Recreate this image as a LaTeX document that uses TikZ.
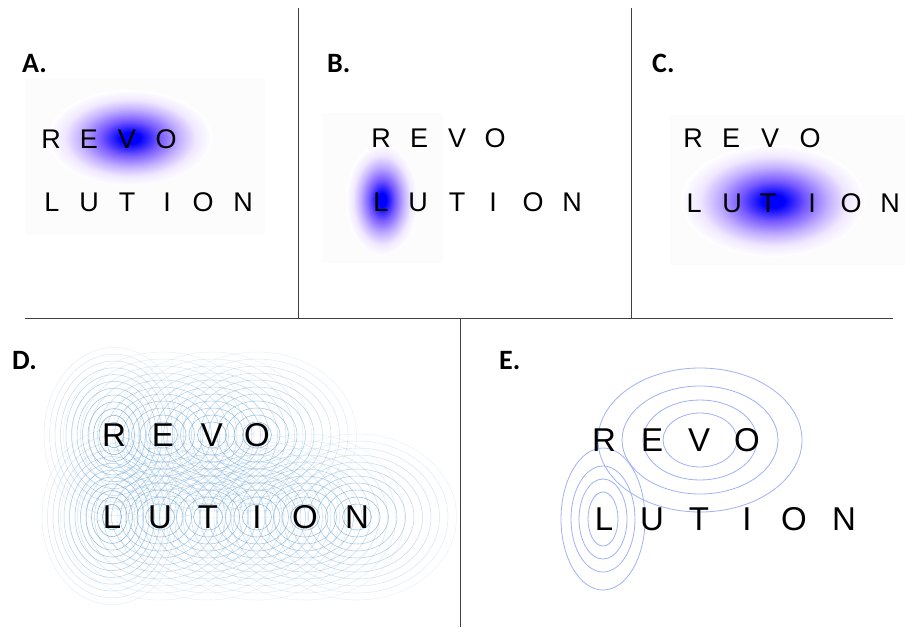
\documentclass[tikz,border=0pt]{standalone}
\usepackage{fontspec}
\setmainfont{Liberation Sans}
\newfontfamily\labelfont{Carlito}
\definecolor{blobmid}{RGB}{120,90,255}
\definecolor{blobpale}{RGB}{195,175,255}
\definecolor{blobout}{RGB}{240,232,255}
\definecolor{ringD}{RGB}{100,160,210}
\definecolor{ringE}{RGB}{160,178,245}
\pgfdeclareradialshading{glow}{\pgfpoint{0bp}{0bp}}{color(0bp)=(blue); color(3bp)=(blue); color(9bp)=(blobmid); color(15bp)=(blobpale); color(20bp)=(blobout); color(25bp)=(white); color(50bp)=(white)}
\begin{document}
\begin{tikzpicture}[x=1pt,y=-1pt,
  panellabel/.style={font=\labelfont\bfseries\fontsize{28}{28}\selectfont, inner sep=0, anchor=north west},
  letter/.style={font=\fontsize{27}{27}\selectfont, inner sep=0},
  bigletter/.style={font=\fontsize{33}{33}\selectfont, inner sep=0},
  divider/.style={draw=black!75, line width=1pt},
  ringd/.style={draw=ringD, line width=0.5pt},
  ringe/.style={draw=ringE, line width=0.8pt},
  heatbg/.style={fill=black!1}]
\useasboundingbox (0,0) rectangle (912,627);
\fill[white] (0,0) rectangle (912,627);

% dividers
\coordinate (v1t) at (298,8);  \coordinate (v1b) at (298,318);
\coordinate (v2t) at (631,8);  \coordinate (v2b) at (631,318);
\coordinate (hl) at (25,318);  \coordinate (hr) at (893,318);
\coordinate (v3t) at (460,318); \coordinate (v3b) at (460,627);
\draw[divider] (v1t) -- (v1b);
\draw[divider] (v2t) -- (v2b);
\draw[divider] (hl) -- (hr);
\draw[divider] (v3t) -- (v3b);

% panel labels
\node[panellabel] (labA) at (22,54) {A.};
\node[panellabel] (labB) at (327,54) {B.};
\node[panellabel] (labC) at (652,54) {C.};
\node[panellabel] (labD) at (12,351) {D.};
\node[panellabel] (labE) at (499,351) {E.};

% heat-map backgrounds and blobs
\fill[heatbg] (25,78) rectangle (265,235);
\fill[heatbg] (323,113) rectangle (443,263);
\fill[heatbg] (670,115) rectangle (905,265);
\shade[shading=glow] (130,138) ellipse [x radius=82, y radius=48];
\shade[shading=glow] (382,200) ellipse [x radius=36, y radius=56];
\shade[shading=glow] (773,201) ellipse [x radius=92, y radius=56];

% panel D rings
\foreach \cx/\cy in {114/435,112/517}{
  \foreach \k in {1,...,12}{
    \pgfmathsetmacro{\op}{0.95-0.065*\k}
    \draw[ringd, opacity=\op] (\cx,\cy) ellipse [x radius={4+5.5*\k}, y radius={6+6.8*\k}];
  }
}
\foreach \cx/\cy in {163/435,212/435,257/435,160/517,208/517,257/517,305/517,357/517}{
  \foreach \k in {1,...,11}{
    \pgfmathsetmacro{\op}{0.8-0.06*\k}
    \draw[ringd, opacity=\op] (\cx,\cy) ellipse [x radius={6+8.5*\k}, y radius={6+7*\k}];
  }
}

% panel E rings
\foreach \rx/\ry in {37/27,57/40,78/54,102/72}
  \draw[ringe] (700,440) ellipse [x radius=\rx, y radius=\ry];
\foreach \rx/\ry in {15/27,24/40,32/53,42/71}
  \draw[ringe] (603,519) ellipse [x radius=\rx, y radius=\ry];

% letters A-C
\foreach \n/\x/\y/\t in {aR/51/139/R,aE/89/139/E,aV/127/139/V,aO/166/139/O,
  aL/52/202/L,aU/89/202/U,aT/127/202/T,aI/167/202/I,aO2/203/202/O,aN/243/202/N,
  bR/381/138/R,bE/419/138/E,bV/457/138/V,bO/495/138/O,
  bL/381/202/L,bU/418/202/U,bT/457/202/T,bI/493/202/I,bO2/533/202/O,bN/572/202/N,
  cR/693/138/R,cE/731/138/E,cV/770/138/V,cO/810/138/O,
  cL/694/203/L,cU/732/203/U,cT/768/203/T,cI/812/203/I,cO2/851/203/O,cN/890/203/N}
  \node[letter] (\n) at (\x,\y) {\t};

% letters D-E
\foreach \n/\x/\y/\t in {dR/114/435/R,dE/163/435/E,dV/212/435/V,dO/257/435/O,
  dL/112/517/L,dU/160/517/U,dT/208/517/T,dI/257/517/I,dO2/305/517/O,dN/357/517/N,
  eR/604/440/R,eE/652/440/E,eV/699/440/V,eO/747/440/O,
  eL/604/519/L,eU/652/519/U,eT/699/519/T,eI/747/519/I,eO2/794/519/O,eN/844/519/N}
  \node[bigletter] (\n) at (\x,\y) {\t};
\end{tikzpicture}
\end{document}
